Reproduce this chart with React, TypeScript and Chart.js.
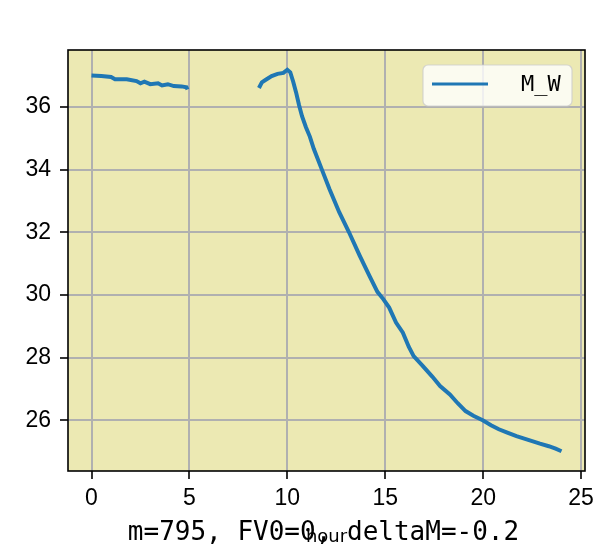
import React, { useEffect, useRef } from "react";
import { Chart, registerables } from "chart.js";

Chart.register(...registerables);

const seriesLabel = "M_W";
const hours: (number)[] = [
  0.0, 0.5, 1.0, 1.2, 1.8, 2.3, 2.5, 2.7, 3.0, 3.4, 3.6, 3.9, 4.2, 4.6, 4.85, 4.9,
  6.7,
  8.55, 8.7, 8.9, 9.2, 9.5, 9.8, 10.0, 10.15, 10.3, 10.45, 10.6, 10.75, 10.95, 11.15,
  11.35, 11.75, 12.15, 12.65, 13.15, 13.7, 14.2, 14.6, 14.9, 15.2, 15.55, 15.9, 16.2,
  16.45, 16.9, 17.4, 17.8, 18.3, 18.7, 19.1, 19.5, 20.0, 20.4, 20.8, 21.2, 21.7, 22.1,
  22.5, 22.9, 23.35, 23.7, 24.0,
];
const mwValues: (number | null)[] = [
  37.0, 36.98, 36.95, 36.88, 36.88, 36.82, 36.75, 36.8, 36.72, 36.75, 36.68, 36.72, 36.66, 36.65, 36.62, 36.55,
  null,
  36.6, 36.78, 36.86, 36.98, 37.05, 37.08, 37.18, 37.1, 36.8, 36.45, 36.05, 35.7, 35.35, 35.05,
  34.66, 34.02, 33.38, 32.64, 32.0, 31.25, 30.6, 30.1, 29.87, 29.6, 29.12, 28.8, 28.35,
  28.05, 27.75, 27.4, 27.1, 26.83, 26.55, 26.3, 26.15, 26.0, 25.85, 25.72, 25.62, 25.5, 25.42,
  25.34, 25.26, 25.18, 25.1, 25.02,
];
const xTickValues = [0, 5, 10, 15, 20, 25];
const yTickValues = [26, 28, 30, 32, 34, 36];
const xAxisTitle = "hour";
const noteText = "m=795, FV0=0, deltaM=-0.2";

const BG = "#ECE9B3";
const LINE = "#1f77b4";

const framePlugin = {
  id: "framePlugin",
  beforeDraw(chart: any) {
    const { ctx, chartArea: a } = chart;
    ctx.save();
    ctx.fillStyle = "#ffffff";
    ctx.fillRect(0, 0, chart.width, chart.height);
    ctx.fillStyle = BG;
    ctx.fillRect(a.left, a.top, a.right - a.left, a.bottom - a.top);
    ctx.restore();
  },
  afterDraw(chart: any) {
    const { ctx, chartArea: a } = chart;
    ctx.save();
    ctx.strokeStyle = "#000";
    ctx.lineWidth = 1.6;
    ctx.strokeRect(a.left, a.top, a.right - a.left, a.bottom - a.top);

    // legend
    const lx = a.right - 162, ly = a.top + 15, lw = 149, lh = 41;
    ctx.beginPath();
    ctx.roundRect(lx, ly, lw, lh, 5);
    ctx.fillStyle = "rgba(255,255,255,0.8)";
    ctx.fill();
    ctx.strokeStyle = "rgba(204,204,204,0.8)";
    ctx.lineWidth = 1.2;
    ctx.stroke();
    ctx.beginPath();
    ctx.moveTo(lx + 9, ly + 19);
    ctx.lineTo(lx + 65, ly + 19);
    ctx.strokeStyle = LINE;
    ctx.lineWidth = 3;
    ctx.stroke();
    ctx.fillStyle = "#000";
    ctx.font = "22px 'DejaVu Sans Mono'";
    ctx.textBaseline = "middle";
    ctx.textAlign = "left";
    ctx.fillText(chart.data.datasets[0].label, lx + 98, ly + 20);

    // bottom note text
    ctx.font = "26px 'DejaVu Sans Mono'";
    ctx.textAlign = "center";
    ctx.textBaseline = "alphabetic";
    ctx.fillText(noteText, (a.left + a.right) / 2 - 3, 540);
    ctx.restore();
  },
};

export default function App() {
  const ref = useRef<HTMLCanvasElement | null>(null);
  useEffect(() => {
    if (!ref.current) return;
    const points = hours.map((h, i) => ({ x: h, y: mwValues[i] }));
    const chart = new Chart(ref.current, {
      type: "scatter",
      data: {
        datasets: [
          {
            label: seriesLabel,
            data: points as any,
            showLine: true,
            spanGaps: false,
            borderColor: LINE,
            backgroundColor: LINE,
            borderWidth: 4,
            pointRadius: 0,
            tension: 0,
          },
        ],
      },
      options: {
        animation: false,
        responsive: false,
        devicePixelRatio: 1,
        layout: { padding: { top: 50, right: 11, left: 0, bottom: 0 } },
        plugins: { legend: { display: false }, tooltip: { enabled: false } },
        scales: {
          x: {
            type: "linear",
            min: -1.2,
            max: 25.2,
            afterFit: (s: any) => { s.height = 80; s.paddingLeft = 0; s.paddingRight = 0; },
            afterBuildTicks: (s: any) => { s.ticks = xTickValues.map((v) => ({ value: v })); },
            grid: { color: "#b0b0b0", lineWidth: 2, tickColor: "#000", tickLength: 8, tickWidth: 1.6 },
            border: { display: false },
            ticks: { color: "#000", font: { family: "'Liberation Sans'", size: 23 }, padding: 6, maxRotation: 0 },
            title: { display: true, text: xAxisTitle, color: "#000", font: { family: "'DejaVu Sans'", size: 18 }, padding: { top: 0, bottom: 3 } },
          },
          y: {
            type: "linear",
            min: 24.39,
            max: 37.81,
            afterFit: (s: any) => { s.width = 68; s.paddingTop = 0; s.paddingBottom = 0; },
            afterBuildTicks: (s: any) => { s.ticks = yTickValues.map((v) => ({ value: v })); },
            grid: { color: "#b0b0b0", lineWidth: 2, tickColor: "#000", tickLength: 8, tickWidth: 1.6 },
            border: { display: false },
            ticks: { color: "#000", font: { family: "'Liberation Sans'", size: 23 }, padding: 9 },
          },
        },
      },
      plugins: [framePlugin],
    });
    return () => chart.destroy();
  }, []);
  return (
    <div style={{ position: "absolute", left: 0, top: 0, width: 596, height: 551 }}>
      <canvas ref={ref} width={596} height={551} />
    </div>
  );
}
